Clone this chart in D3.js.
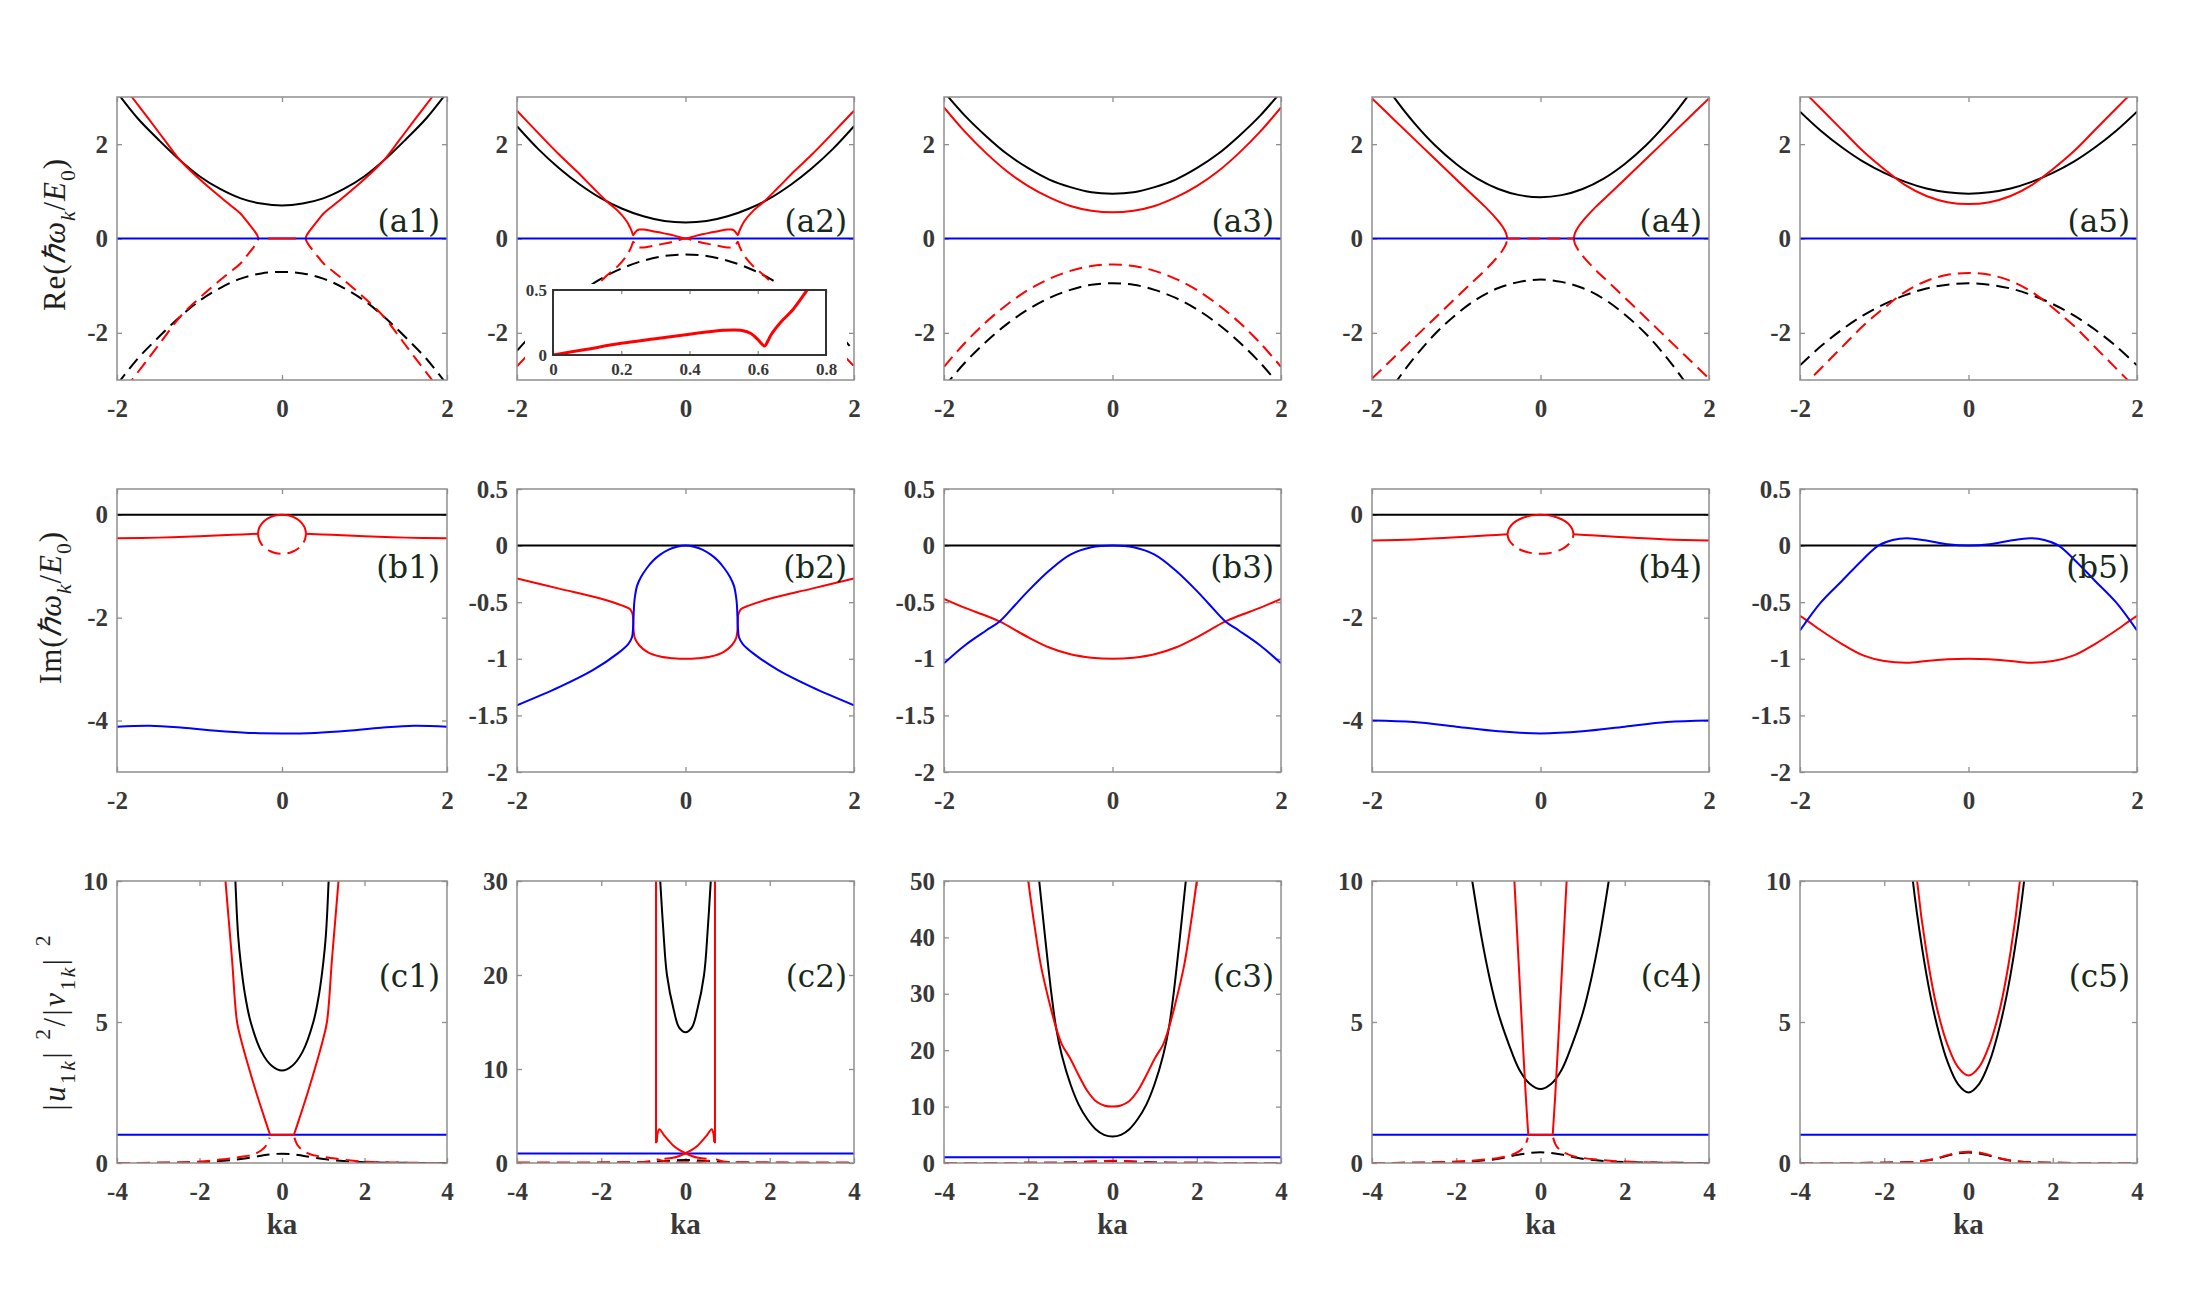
<!DOCTYPE html>
<html><head><meta charset="utf-8">
<script src="https://cdn.jsdelivr.net/npm/d3@7"></script>
<style>body{margin:0;background:#fff}svg{display:block}</style>
</head><body><svg id="c" width="2186" height="1307"></svg>
<script>
// ---------------- tick labels ----------------
const xTicksAB = [-2, 0, 2];
const xTicksC = [-4, -2, 0, 2, 4];
const yTicksRe = [-2, 0, 2];
const yTicksImWide = [-4, -2, 0];
const yTicksImNarrow = [-2, -1.5, -1, -0.5, 0, 0.5];
const yTicksC10 = [0, 5, 10];
const yTicksC30 = [0, 10, 20, 30];
const yTicksC50 = [0, 10, 20, 30, 40, 50];
const insetXTicks = [0, 0.2, 0.4, 0.6, 0.8];
const insetYTicks = [0, 0.5];
const panelLabels = ['(a1)','(a2)','(a3)','(a4)','(a5)','(b1)','(b2)','(b3)','(b4)','(b5)','(c1)','(c2)','(c3)','(c4)','(c5)'];

// ---------------- shared flat lines ----------------
const zeroK2 = [[-2,0],[2,0]];
const oneK4 = [[-4,1],[4,1]];

// ---------------- row a : Re ----------------
const a1BlackUp = [[-2,3.1],[-1.75,2.55],[-1.5,2.1],[-1.25,1.68],[-1,1.32],[-0.75,1.05],[-0.5,0.85],[-0.25,0.74],[0,0.7],[0.25,0.74],[0.5,0.85],[0.75,1.05],[1,1.32],[1.25,1.68],[1.5,2.1],[1.75,2.55],[2,3.1]];
const a1BlackDn = [[-2,-3.1],[-1.75,-2.55],[-1.5,-2.1],[-1.25,-1.68],[-1,-1.32],[-0.75,-1.05],[-0.5,-0.85],[-0.25,-0.74],[0,-0.71],[0.25,-0.74],[0.5,-0.85],[0.75,-1.05],[1,-1.32],[1.25,-1.68],[1.5,-2.1],[1.75,-2.55],[2,-3.1]];
const a1RedUpL = [[-1.9,3.18],[-1.82,3.0],[-1.6,2.5],[-1.42,2.08],[-1.24,1.67],[-1.05,1.34],[-0.83,1.0],[-0.65,0.74],[-0.51,0.54],[-0.41,0.33],[-0.33,0.15],[-0.295,0.05],[-0.287,0]];
const a1RedUpR = [[0.287,0],[0.295,0.05],[0.33,0.15],[0.41,0.33],[0.51,0.54],[0.65,0.74],[0.83,1.0],[1.05,1.34],[1.24,1.67],[1.42,2.08],[1.6,2.5],[1.82,3.0],[1.9,3.18]];
const a1RedDnL = [[-1.9,-3.18],[-1.82,-3.0],[-1.6,-2.5],[-1.42,-2.08],[-1.24,-1.67],[-1.05,-1.34],[-0.83,-1.0],[-0.65,-0.74],[-0.51,-0.54],[-0.41,-0.33],[-0.33,-0.15],[-0.295,-0.05],[-0.287,0]];
const a1RedDnR = [[0.287,0],[0.295,-0.05],[0.33,-0.15],[0.41,-0.33],[0.51,-0.54],[0.65,-0.74],[0.83,-1.0],[1.05,-1.34],[1.24,-1.67],[1.42,-2.08],[1.6,-2.5],[1.82,-3.0],[1.9,-3.18]];
const a1RedZero = [[-0.17,0],[0.17,0]];

const a2BlackUp = [[-2,2.38],[-1.75,1.9],[-1.5,1.49],[-1.25,1.14],[-1,0.85],[-0.75,0.63],[-0.5,0.47],[-0.25,0.37],[0,0.34],[0.25,0.37],[0.5,0.47],[0.75,0.63],[1,0.85],[1.25,1.14],[1.5,1.49],[1.75,1.9],[2,2.38]];
const a2BlackDn = [[-2,-2.38],[-1.75,-1.9],[-1.5,-1.49],[-1.25,-1.14],[-1,-0.85],[-0.75,-0.63],[-0.5,-0.47],[-0.25,-0.37],[0,-0.34],[0.25,-0.37],[0.5,-0.47],[0.75,-0.63],[1,-0.85],[1.25,-1.14],[1.5,-1.49],[1.75,-1.9],[2,-2.38]];
const a2RedUp = [[-2,2.71],[-1.75,2.24],[-1.5,1.78],[-1.3,1.44],[-1.1,1.08],[-0.93,0.78],[-0.8,0.58],[-0.7,0.37],[-0.66,0.24],[-0.64,0.16],[-0.63,0.11],[-0.62,0.07],[-0.6,0.12],[-0.58,0.165],[-0.55,0.19],[-0.5,0.19],[-0.4,0.16],[-0.3,0.125],[-0.2,0.09],[-0.1,0.045],[0,0],[0.1,0.045],[0.2,0.09],[0.3,0.125],[0.4,0.16],[0.5,0.19],[0.55,0.19],[0.58,0.165],[0.6,0.12],[0.62,0.07],[0.63,0.11],[0.64,0.16],[0.66,0.24],[0.7,0.37],[0.8,0.58],[0.93,0.78],[1.1,1.08],[1.3,1.44],[1.5,1.78],[1.75,2.24],[2,2.71]];
const a2RedDn = [[-2,-2.71],[-1.75,-2.24],[-1.5,-1.78],[-1.3,-1.44],[-1.1,-1.08],[-0.93,-0.78],[-0.8,-0.58],[-0.7,-0.37],[-0.66,-0.24],[-0.64,-0.16],[-0.63,-0.11],[-0.62,-0.07],[-0.6,-0.12],[-0.58,-0.165],[-0.55,-0.19],[-0.5,-0.19],[-0.4,-0.16],[-0.3,-0.125],[-0.2,-0.09],[-0.1,-0.045],[0,0],[0.1,-0.045],[0.2,-0.09],[0.3,-0.125],[0.4,-0.16],[0.5,-0.19],[0.55,-0.19],[0.58,-0.165],[0.6,-0.12],[0.62,-0.07],[0.63,-0.11],[0.64,-0.16],[0.66,-0.24],[0.7,-0.37],[0.8,-0.58],[0.93,-0.78],[1.1,-1.08],[1.3,-1.44],[1.5,-1.78],[1.75,-2.24],[2,-2.71]];
const a2Inset = [[0,0],[0.1,0.045],[0.2,0.09],[0.3,0.125],[0.4,0.16],[0.5,0.19],[0.55,0.19],[0.58,0.165],[0.6,0.12],[0.62,0.07],[0.63,0.11],[0.64,0.16],[0.67,0.26],[0.7,0.34],[0.745,0.5],[0.76,0.55]];

const a3BlackUp = [[-2,3.11],[-1.75,2.6],[-1.5,2.17],[-1.25,1.79],[-1,1.49],[-0.75,1.25],[-0.5,1.09],[-0.25,0.98],[0,0.95],[0.25,0.98],[0.5,1.09],[0.75,1.25],[1,1.49],[1.25,1.79],[1.5,2.17],[1.75,2.6],[2,3.11]];
const a3RedUp = [[-2,2.78],[-1.75,2.26],[-1.5,1.81],[-1.25,1.42],[-1,1.11],[-0.75,0.87],[-0.5,0.69],[-0.25,0.59],[0,0.555],[0.25,0.59],[0.5,0.69],[0.75,0.87],[1,1.11],[1.25,1.42],[1.5,1.81],[1.75,2.26],[2,2.78]];
const a3RedDn = [[-2,-2.72],[-1.75,-2.21],[-1.5,-1.77],[-1.25,-1.4],[-1,-1.09],[-0.75,-0.855],[-0.5,-0.686],[-0.25,-0.584],[0,-0.55],[0.25,-0.584],[0.5,-0.686],[0.75,-0.855],[1,-1.09],[1.25,-1.4],[1.5,-1.77],[1.75,-2.21],[2,-2.72]];
const a3BlackDn = [[-2,-3.15],[-1.75,-2.63],[-1.5,-2.19],[-1.25,-1.81],[-1,-1.5],[-0.75,-1.26],[-0.5,-1.09],[-0.25,-0.98],[0,-0.95],[0.25,-0.98],[0.5,-1.09],[0.75,-1.26],[1,-1.5],[1.25,-1.81],[1.5,-2.19],[1.75,-2.63],[2,-3.15]];

const a4BlackUp = [[-2,3.68],[-1.75,3.02],[-1.5,2.45],[-1.25,1.97],[-1,1.58],[-0.75,1.27],[-0.5,1.05],[-0.25,0.92],[0,0.875],[0.25,0.92],[0.5,1.05],[0.75,1.27],[1,1.58],[1.25,1.97],[1.5,2.45],[1.75,3.02],[2,3.68]];
const a4BlackDn = [[-2,-3.82],[-1.75,-3.13],[-1.5,-2.53],[-1.25,-2.02],[-1,-1.61],[-0.75,-1.28],[-0.5,-1.05],[-0.25,-0.92],[0,-0.87],[0.25,-0.92],[0.5,-1.05],[0.75,-1.28],[1,-1.61],[1.25,-2.02],[1.5,-2.53],[1.75,-3.13],[2,-3.82]];
const a4RedUpL = [[-2,2.97],[-1.75,2.54],[-1.43,1.99],[-1.15,1.51],[-0.84,0.98],[-0.65,0.66],[-0.52,0.41],[-0.45,0.25],[-0.41,0.12],[-0.4,0.05],[-0.395,0]];
const a4RedUpR = [[0.395,0],[0.4,0.05],[0.41,0.12],[0.45,0.25],[0.52,0.41],[0.65,0.66],[0.84,0.98],[1.15,1.51],[1.43,1.99],[1.75,2.54],[2,2.97]];
const a4RedDnL = [[-2,-2.97],[-1.75,-2.54],[-1.43,-1.99],[-1.15,-1.51],[-0.84,-0.98],[-0.65,-0.66],[-0.52,-0.41],[-0.45,-0.25],[-0.41,-0.12],[-0.4,-0.05],[-0.395,0]];
const a4RedDnR = [[0.395,0],[0.4,-0.05],[0.41,-0.12],[0.45,-0.25],[0.52,-0.41],[0.65,-0.66],[0.84,-0.98],[1.15,-1.51],[1.43,-1.99],[1.75,-2.54],[2,-2.97]];
const a4RedZero = [[-0.395,0],[0.395,0]];

const a5BlackUp = [[-2,2.69],[-1.75,2.28],[-1.5,1.93],[-1.25,1.63],[-1,1.39],[-0.75,1.2],[-0.5,1.06],[-0.25,0.98],[0,0.95],[0.25,0.98],[0.5,1.06],[0.75,1.2],[1,1.39],[1.25,1.63],[1.5,1.93],[1.75,2.28],[2,2.69]];
const a5RedUp = [[-2,3.2],[-1.75,2.75],[-1.5,2.3],[-1.25,1.85],[-1,1.47],[-0.75,1.13],[-0.5,0.9],[-0.25,0.77],[0,0.73],[0.25,0.77],[0.5,0.9],[0.75,1.13],[1,1.47],[1.25,1.85],[1.5,2.3],[1.75,2.75],[2,3.2]];
const a5RedDn = [[-2,-3.2],[-1.75,-2.75],[-1.5,-2.3],[-1.25,-1.85],[-1,-1.47],[-0.75,-1.13],[-0.5,-0.9],[-0.25,-0.77],[0,-0.73],[0.25,-0.77],[0.5,-0.9],[0.75,-1.13],[1,-1.47],[1.25,-1.85],[1.5,-2.3],[1.75,-2.75],[2,-3.2]];
const a5BlackDn = [[-2,-2.69],[-1.75,-2.28],[-1.5,-1.93],[-1.25,-1.63],[-1,-1.39],[-0.75,-1.2],[-0.5,-1.06],[-0.25,-0.98],[0,-0.95],[0.25,-0.98],[0.5,-1.06],[0.75,-1.2],[1,-1.39],[1.25,-1.63],[1.5,-1.93],[1.75,-2.28],[2,-2.69]];

// ---------------- row b : Im ----------------
const b1RedL = [[-2,-0.455],[-1.5,-0.445],[-1,-0.42],[-0.6,-0.39],[-0.29,-0.37]];
const b1RedR = [[0.29,-0.37],[0.6,-0.39],[1,-0.42],[1.5,-0.445],[2,-0.455]];
const b1ArcUp = [[-0.29,-0.37],[-0.285,-0.3],[-0.27,-0.235],[-0.24,-0.162],[-0.2,-0.102],[-0.14,-0.046],[-0.07,-0.011],[0,0],[0.07,-0.011],[0.14,-0.046],[0.2,-0.102],[0.24,-0.162],[0.27,-0.235],[0.285,-0.3],[0.29,-0.37]];
const b1ArcDn = [[-0.29,-0.37],[-0.285,-0.44],[-0.27,-0.51],[-0.24,-0.59],[-0.2,-0.65],[-0.14,-0.71],[-0.07,-0.75],[0,-0.76],[0.07,-0.75],[0.14,-0.71],[0.2,-0.65],[0.24,-0.59],[0.27,-0.51],[0.285,-0.44],[0.29,-0.37]];
const b1Blue = [[-2,-4.12],[-1.6,-4.1],[-1.2,-4.14],[-0.8,-4.2],[-0.4,-4.24],[0,-4.25],[0.4,-4.24],[0.8,-4.2],[1.2,-4.14],[1.6,-4.1],[2,-4.12]];

const b2Blue = [[-2,-1.41],[-1.5,-1.25],[-1.1,-1.1],[-0.8,-0.95],[-0.68,-0.87],[-0.635,-0.81],[-0.622,-0.72],[-0.616,-0.62],[-0.61,-0.52],[-0.6,-0.45],[-0.577,-0.36],[-0.53,-0.28],[-0.46,-0.2],[-0.38,-0.13],[-0.3,-0.08],[-0.2,-0.035],[-0.1,-0.01],[0,0],[0.1,-0.01],[0.2,-0.035],[0.3,-0.08],[0.38,-0.13],[0.46,-0.2],[0.53,-0.28],[0.577,-0.36],[0.6,-0.45],[0.61,-0.52],[0.616,-0.62],[0.622,-0.72],[0.635,-0.81],[0.68,-0.87],[0.8,-0.95],[1.1,-1.1],[1.5,-1.25],[2,-1.41]];
const b2Red = [[-2,-0.29],[-1.5,-0.38],[-1,-0.47],[-0.75,-0.53],[-0.66,-0.56],[-0.63,-0.6],[-0.62,-0.68],[-0.615,-0.76],[-0.6,-0.82],[-0.55,-0.88],[-0.45,-0.94],[-0.3,-0.98],[-0.15,-0.995],[0,-1],[0.15,-0.995],[0.3,-0.98],[0.45,-0.94],[0.55,-0.88],[0.6,-0.82],[0.615,-0.76],[0.62,-0.68],[0.63,-0.6],[0.66,-0.56],[0.75,-0.53],[1,-0.47],[1.5,-0.38],[2,-0.29]];

const b3Blue = [[-2,-1.04],[-1.75,-0.88],[-1.5,-0.75],[-1.34,-0.67],[-1.15,-0.52],[-1,-0.4],[-0.75,-0.22],[-0.5,-0.08],[-0.25,-0.015],[0,0],[0.25,-0.015],[0.5,-0.08],[0.75,-0.22],[1,-0.4],[1.15,-0.52],[1.34,-0.67],[1.5,-0.75],[1.75,-0.88],[2,-1.04]];
const b3Red = [[-2,-0.47],[-1.75,-0.55],[-1.5,-0.62],[-1.34,-0.67],[-1,-0.81],[-0.75,-0.9],[-0.5,-0.96],[-0.25,-0.99],[0,-1],[0.25,-0.99],[0.5,-0.96],[0.75,-0.9],[1,-0.81],[1.34,-0.67],[1.5,-0.62],[1.75,-0.55],[2,-0.47]];

const b4RedL = [[-2,-0.5],[-1.5,-0.48],[-1,-0.44],[-0.6,-0.4],[-0.39,-0.38]];
const b4RedR = [[0.39,-0.38],[0.6,-0.4],[1,-0.44],[1.5,-0.48],[2,-0.5]];
const b4ArcUp = [[-0.39,-0.38],[-0.385,-0.32],[-0.37,-0.26],[-0.33,-0.177],[-0.28,-0.115],[-0.2,-0.054],[-0.1,-0.0125],[0,0],[0.1,-0.0125],[0.2,-0.054],[0.28,-0.115],[0.33,-0.177],[0.37,-0.26],[0.385,-0.32],[0.39,-0.38]];
const b4ArcDn = [[-0.39,-0.38],[-0.385,-0.44],[-0.37,-0.5],[-0.33,-0.58],[-0.28,-0.645],[-0.2,-0.706],[-0.1,-0.747],[0,-0.76],[0.1,-0.747],[0.2,-0.706],[0.28,-0.645],[0.33,-0.58],[0.37,-0.5],[0.385,-0.44],[0.39,-0.38]];
const b4Blue = [[-2,-4.0],[-1.5,-4.03],[-1,-4.12],[-0.5,-4.21],[0,-4.25],[0.5,-4.21],[1,-4.12],[1.5,-4.03],[2,-4.0]];

const b5Blue = [[-2,-0.75],[-1.75,-0.5],[-1.5,-0.31],[-1.25,-0.12],[-1.07,0],[-0.9,0.05],[-0.73,0.065],[-0.5,0.045],[-0.25,0.012],[0,0],[0.25,0.012],[0.5,0.045],[0.73,0.065],[0.9,0.05],[1.07,0],[1.25,-0.12],[1.5,-0.31],[1.75,-0.5],[2,-0.75]];
const b5Red = [[-2,-0.62],[-1.92,-0.66],[-1.75,-0.75],[-1.5,-0.87],[-1.25,-0.97],[-1,-1.02],[-0.73,-1.035],[-0.5,-1.02],[-0.25,-1.005],[0,-1],[0.25,-1.005],[0.5,-1.02],[0.73,-1.035],[1,-1.02],[1.25,-0.97],[1.5,-0.87],[1.75,-0.75],[1.92,-0.66],[2,-0.62]];

// ---------------- row c : |u|^2/|v|^2 ----------------
const c1BlackUp = [[-1.16,11],[-1.13,10],[-1.1,9],[-1.06,8],[-1,7.1],[-0.9,6],[-0.76,5],[-0.5,3.95],[-0.25,3.45],[0,3.28],[0.25,3.45],[0.5,3.95],[0.76,5],[0.9,6],[1,7.1],[1.06,8],[1.1,9],[1.13,10],[1.16,11]];
const c1RedL = [[-1.42,11],[-1.37,10],[-1.29,8.6],[-1.21,7.2],[-1.09,5],[-0.98,4.3],[-0.86,3.66],[-0.62,2.48],[-0.41,1.53],[-0.29,1]];
const c1RedR = [[0.29,1],[0.41,1.53],[0.62,2.48],[0.86,3.66],[0.98,4.3],[1.09,5],[1.21,7.2],[1.29,8.6],[1.37,10],[1.42,11]];
const c1RedFlat = [[-0.29,1],[0.29,1]];
const c1RedDashL = [[-4,0],[-3,0.01],[-2,0.05],[-1.5,0.12],[-1.18,0.18],[-0.9,0.24],[-0.7,0.3],[-0.5,0.45],[-0.37,0.65],[-0.3,0.9]];
const c1RedDashR = [[0.3,0.9],[0.37,0.65],[0.5,0.45],[0.7,0.3],[0.9,0.24],[1.18,0.18],[1.5,0.12],[2,0.05],[3,0.01],[4,0]];
const c1BlackDash = [[-4,0],[-3,0.005],[-2,0.03],[-1.5,0.07],[-1,0.14],[-0.5,0.26],[-0.25,0.31],[0,0.33],[0.25,0.31],[0.5,0.26],[1,0.14],[1.5,0.07],[2,0.03],[3,0.005],[4,0]];

const c2BlackUp = [[-0.63,32],[-0.6,30],[-0.53,25],[-0.44,20],[-0.28,16.3],[-0.15,14.4],[0,13.9],[0.15,14.4],[0.28,16.3],[0.44,20],[0.53,25],[0.6,30],[0.63,32]];
const c2RedVL = [[-0.7,32],[-0.7,2.1]];
const c2RedVR = [[0.7,32],[0.7,2.1]];
const c2RedA = [[-0.68,2.2],[-0.66,3.2],[-0.62,3.6],[-0.5,2.9],[-0.3,1.9],[-0.15,1.4],[0,1.05],[0.15,0.75],[0.3,0.55],[0.5,0.45]];
const c2RedB = [[-0.5,0.45],[-0.3,0.55],[-0.15,0.75],[0,1.05],[0.15,1.4],[0.3,1.9],[0.5,2.9],[0.62,3.6],[0.66,3.2],[0.68,2.2]];
const c2RedDash = [[-4,0.05],[-1.5,0.08],[-0.9,0.15],[-0.7,0.4],[-0.6,0.3],[-0.4,0.12],[0,0.08],[0.4,0.12],[0.6,0.3],[0.7,0.4],[0.9,0.15],[1.5,0.08],[4,0.05]];
const c2BlackDash = [[-4,0],[-2,0.02],[-1,0.08],[-0.5,0.2],[0,0.33],[0.5,0.2],[1,0.08],[2,0.02],[4,0]];

const c3BlackUp = [[-1.8,54],[-1.74,50],[-1.6,40],[-1.45,30],[-1.34,24],[-1.2,19],[-1,14],[-0.8,10.3],[-0.6,7.8],[-0.4,6],[-0.2,5],[0,4.7],[0.2,5],[0.4,6],[0.6,7.8],[0.8,10.3],[1,14],[1.2,19],[1.34,24],[1.45,30],[1.6,40],[1.74,50],[1.8,54]];
const c3RedUp = [[-2.05,53],[-2,50],[-1.85,42],[-1.7,35],[-1.5,28.5],[-1.34,24],[-1.2,21],[-1,18.5],[-0.8,15.5],[-0.6,12.8],[-0.4,11],[-0.2,10.2],[0,10],[0.2,10.2],[0.4,11],[0.6,12.8],[0.8,15.5],[1,18.5],[1.2,21],[1.34,24],[1.5,28.5],[1.7,35],[1.85,42],[2,50],[2.05,53]];
const c3RedDash = [[-4,0],[-2,0.03],[-1,0.1],[0,0.4],[1,0.1],[2,0.03],[4,0]];
const c3BlackDash = [[-4,0],[-2,0.03],[-1,0.1],[0,0.35],[1,0.1],[2,0.03],[4,0]];

const c4BlackUp = [[-1.72,11],[-1.62,10],[-1.4,8],[-1.2,6.5],[-1,5.3],[-0.75,4.2],[-0.5,3.3],[-0.25,2.8],[0,2.62],[0.25,2.8],[0.5,3.3],[0.75,4.2],[1,5.3],[1.2,6.5],[1.4,8],[1.62,10],[1.72,11]];
const c4RedL = [[-0.66,11],[-0.62,10],[-0.55,8],[-0.48,6],[-0.41,4],[-0.35,2.4],[-0.29,1]];
const c4RedR = [[0.29,1],[0.35,2.4],[0.41,4],[0.48,6],[0.55,8],[0.62,10],[0.66,11]];
const c4RedFlat = [[-0.29,1],[0.29,1]];
const c4RedDashL = [[-4,0],[-3,0.01],[-2,0.05],[-1.5,0.1],[-1,0.18],[-0.7,0.28],[-0.5,0.42],[-0.37,0.62],[-0.3,0.9]];
const c4RedDashR = [[0.3,0.9],[0.37,0.62],[0.5,0.42],[0.7,0.28],[1,0.18],[1.5,0.1],[2,0.05],[3,0.01],[4,0]];
const c4BlackDash = [[-4,0],[-2,0.03],[-1.5,0.07],[-1,0.15],[-0.5,0.3],[0,0.38],[0.5,0.3],[1,0.15],[1.5,0.07],[2,0.03],[4,0]];

const c5RedUp = [[-1.27,11],[-1.22,10],[-1,7.5],[-0.75,5.5],[-0.5,4.2],[-0.25,3.4],[0,3.1],[0.25,3.4],[0.5,4.2],[0.75,5.5],[1,7.5],[1.22,10],[1.27,11]];
const c5BlackUp = [[-1.38,11],[-1.32,10],[-1.1,7.6],[-0.9,5.9],[-0.7,4.6],[-0.5,3.6],[-0.25,2.8],[0,2.5],[0.25,2.8],[0.5,3.6],[0.7,4.6],[0.9,5.9],[1.1,7.6],[1.32,10],[1.38,11]];
const c5RedDash = [[-4,0],[-2,0.01],[-1.2,0.05],[-0.8,0.15],[-0.5,0.28],[-0.25,0.37],[0,0.4],[0.25,0.37],[0.5,0.28],[0.8,0.15],[1.2,0.05],[2,0.01],[4,0]];
const c5BlackDash = [[-4,0],[-2,0.01],[-1.2,0.05],[-0.8,0.14],[-0.5,0.26],[-0.25,0.34],[0,0.37],[0.25,0.34],[0.5,0.26],[0.8,0.14],[1.2,0.05],[2,0.01],[4,0]];

// ---------------- layout ----------------
const W = 2186, H = 1307;
const colX = [[117,447],[517,854],[944,1281],[1372,1709],[1800,2137]];
const rowY = [[97,380],[489,772],[881,1163]];
const labelBase = [232, 578, 987];
const RED = '#ff0000', BLK = '#000000', BLU = '#0000ff';
const GRID = '#8f8f8f', TXT = '#383838';
const SERIF = "'Liberation Serif','Times New Roman',serif";
const LABSERIF = "'DejaVu Serif','Liberation Serif',serif";
const S = (d, c, dash) => ({d, c, dash: !!dash});

const panels = [
  {r:0,c:0,xd:[-2,2],yd:[-3,3],xt:xTicksAB,yt:yTicksRe,s:[S(a1BlackUp,BLK),S(a1BlackDn,BLK,1),S(a1RedUpL,RED),S(a1RedUpR,RED),S(a1RedDnL,RED,1),S(a1RedDnR,RED,1),S(zeroK2,BLU),S(a1RedZero,RED)]},
  {r:0,c:1,xd:[-2,2],yd:[-3,3],xt:xTicksAB,yt:yTicksRe,s:[S(a2BlackUp,BLK),S(a2BlackDn,BLK,1),S(zeroK2,BLU),S(a2RedUp,RED),S(a2RedDn,RED,1)],inset:true},
  {r:0,c:2,xd:[-2,2],yd:[-3,3],xt:xTicksAB,yt:yTicksRe,s:[S(a3BlackUp,BLK),S(a3BlackDn,BLK,1),S(a3RedUp,RED),S(a3RedDn,RED,1),S(zeroK2,BLU)]},
  {r:0,c:3,xd:[-2,2],yd:[-3,3],xt:xTicksAB,yt:yTicksRe,s:[S(a4BlackUp,BLK),S(a4BlackDn,BLK,1),S(a4RedUpL,RED),S(a4RedUpR,RED),S(a4RedDnL,RED,1),S(a4RedDnR,RED,1),S(zeroK2,BLU),S(a4RedZero,RED,1)]},
  {r:0,c:4,xd:[-2,2],yd:[-3,3],xt:xTicksAB,yt:yTicksRe,s:[S(a5BlackUp,BLK),S(a5BlackDn,BLK,1),S(a5RedUp,RED),S(a5RedDn,RED,1),S(zeroK2,BLU)]},
  {r:1,c:0,xd:[-2,2],yd:[-5,0.5],xt:xTicksAB,yt:yTicksImWide,s:[S(zeroK2,BLK),S(b1RedL,RED),S(b1RedR,RED),S(b1ArcUp,RED),S(b1ArcDn,RED,1),S(b1Blue,BLU)]},
  {r:1,c:1,xd:[-2,2],yd:[-2,0.5],xt:xTicksAB,yt:yTicksImNarrow,s:[S(zeroK2,BLK),S(b2Red,RED),S(b2Blue,BLU)]},
  {r:1,c:2,xd:[-2,2],yd:[-2,0.5],xt:xTicksAB,yt:yTicksImNarrow,s:[S(zeroK2,BLK),S(b3Red,RED),S(b3Blue,BLU)]},
  {r:1,c:3,xd:[-2,2],yd:[-5,0.5],xt:xTicksAB,yt:yTicksImWide,s:[S(zeroK2,BLK),S(b4RedL,RED),S(b4RedR,RED),S(b4ArcUp,RED),S(b4ArcDn,RED,1),S(b4Blue,BLU)]},
  {r:1,c:4,xd:[-2,2],yd:[-2,0.5],xt:xTicksAB,yt:yTicksImNarrow,s:[S(zeroK2,BLK),S(b5Red,RED),S(b5Blue,BLU)]},
  {r:2,c:0,xd:[-4,4],yd:[0,10],xt:xTicksC,yt:yTicksC10,s:[S(c1BlackDash,BLK,1),S(c1RedDashL,RED,1),S(c1RedDashR,RED,1),S(oneK4,BLU),S(c1BlackUp,BLK),S(c1RedL,RED),S(c1RedR,RED),S(c1RedFlat,RED)]},
  {r:2,c:1,xd:[-4,4],yd:[0,30],xt:xTicksC,yt:yTicksC30,s:[S(c2BlackDash,BLK,1),S(c2RedDash,RED,1),S(oneK4,BLU),S(c2BlackUp,BLK),S(c2RedVL,RED),S(c2RedVR,RED),S(c2RedA,RED),S(c2RedB,RED)]},
  {r:2,c:2,xd:[-4,4],yd:[0,50],xt:xTicksC,yt:yTicksC50,s:[S(c3BlackDash,BLK,1),S(c3RedDash,RED,1),S(oneK4,BLU),S(c3BlackUp,BLK),S(c3RedUp,RED)]},
  {r:2,c:3,xd:[-4,4],yd:[0,10],xt:xTicksC,yt:yTicksC10,s:[S(c4BlackDash,BLK,1),S(c4RedDashL,RED,1),S(c4RedDashR,RED,1),S(oneK4,BLU),S(c4BlackUp,BLK),S(c4RedL,RED),S(c4RedR,RED),S(c4RedFlat,RED)]},
  {r:2,c:4,xd:[-4,4],yd:[0,10],xt:xTicksC,yt:yTicksC10,s:[S(c5BlackDash,BLK,1),S(c5RedDash,RED,1),S(oneK4,BLU),S(c5BlackUp,BLK),S(c5RedUp,RED)]}
];

const svg = d3.select('#c');
svg.append('rect').attr('width',W).attr('height',H).attr('fill','#fff');
const defs = svg.append('defs');

function styleAxis(g, size) {
  g.attr('font-family', null).attr('font-size', null);
  g.select('.domain').remove();
  g.selectAll('.tick line').attr('stroke', GRID).attr('stroke-width', 1.3);
  g.selectAll('.tick text').attr('fill', TXT)
    .style('font-family', SERIF).style('font-weight', 'bold').style('font-size', size + 'px');
}

function drawPanel(p, i) {
  const [x0, x1] = colX[p.c], [y0, y1] = rowY[p.r];
  const x = d3.scaleLinear().domain(p.xd).range([x0, x1]);
  const y = d3.scaleLinear().domain(p.yd).range([y1, y0]);
  const id = 'clip' + i;
  defs.append('clipPath').attr('id', id).append('rect')
    .attr('x', x0).attr('y', y0).attr('width', x1 - x0).attr('height', y1 - y0);

  const fmt = d => String(d);
  styleAxis(svg.append('g').attr('transform', `translate(0,${y1})`)
    .call(d3.axisBottom(x).tickValues(p.xt).tickSizeInner(-5).tickSizeOuter(0).tickPadding(19).tickFormat(fmt)), 25);
  styleAxis(svg.append('g').attr('transform', `translate(0,${y0})`)
    .call(d3.axisTop(x).tickValues(p.xt).tickSizeInner(-5).tickSizeOuter(0).tickFormat('')), 25);
  styleAxis(svg.append('g').attr('transform', `translate(${x0},0)`)
    .call(d3.axisLeft(y).tickValues(p.yt).tickSizeInner(-5).tickSizeOuter(0).tickPadding(9).tickFormat(fmt)), 25);
  styleAxis(svg.append('g').attr('transform', `translate(${x1},0)`)
    .call(d3.axisRight(y).tickValues(p.yt).tickSizeInner(-5).tickSizeOuter(0).tickFormat('')), 25);

  const g = svg.append('g').attr('clip-path', `url(#${id})`);
  const line = d3.line().x(d => x(d[0])).y(d => y(d[1])).curve(d3.curveCatmullRom.alpha(0.5));
  p.s.forEach(s => {
    g.append('path').attr('d', line(s.d)).attr('fill', 'none')
      .attr('stroke', s.c).attr('stroke-width', 2)
      .attr('stroke-dasharray', s.dash ? '13,7' : null);
  });

  if (p.inset) {
    // white area behind the inset hides the lower curves
    g.append('rect').attr('x', 525).attr('y', 284).attr('width', 322).attr('height', 96).attr('fill', '#fff');
  }

  svg.append('rect').attr('x', x0).attr('y', y0).attr('width', x1 - x0).attr('height', y1 - y0)
    .attr('fill', 'none').attr('stroke', GRID).attr('stroke-width', 1.5);

  if (p.inset) drawInset();

  svg.append('text').attr('x', x1 - 7).attr('y', labelBase[p.r]).attr('text-anchor', 'end')
    .style('font-family', LABSERIF).style('font-size', '31px').attr('fill', '#17291a').text(panelLabels[i]);

  if (p.r === 2) {
    svg.append('text').attr('x', (x0 + x1) / 2).attr('y', 1234).attr('text-anchor', 'middle')
      .style('font-family', SERIF).style('font-weight', 'bold').style('font-size', '29px')
      .attr('fill', TXT).text('ka');
  }
}

function drawInset() {
  const ix = d3.scaleLinear().domain([0, 0.8]).range([553, 826]);
  const iy = d3.scaleLinear().domain([0, 0.5]).range([355, 290]);
  defs.append('clipPath').attr('id', 'clipInset').append('rect')
    .attr('x', 553).attr('y', 290).attr('width', 273).attr('height', 65);
  const fmt = d => String(d);
  styleAxis(svg.append('g').attr('transform', 'translate(0,355)')
    .call(d3.axisBottom(ix).tickValues(insetXTicks).tickSizeInner(-4).tickSizeOuter(0).tickPadding(8).tickFormat(fmt)), 17);
  styleAxis(svg.append('g').attr('transform', 'translate(0,290)')
    .call(d3.axisTop(ix).tickValues(insetXTicks).tickSizeInner(-4).tickSizeOuter(0).tickFormat('')), 17);
  styleAxis(svg.append('g').attr('transform', 'translate(553,0)')
    .call(d3.axisLeft(iy).tickValues(insetYTicks).tickSizeInner(0).tickSizeOuter(0).tickPadding(6).tickFormat(fmt)), 17);
  const line = d3.line().x(d => ix(d[0])).y(d => iy(d[1])).curve(d3.curveCatmullRom.alpha(0.5));
  svg.append('g').attr('clip-path', 'url(#clipInset)').append('path').attr('d', line(a2Inset))
    .attr('fill', 'none').attr('stroke', RED).attr('stroke-width', 3);
  svg.append('rect').attr('x', 553).attr('y', 290).attr('width', 273).attr('height', 65)
    .attr('fill', 'none').attr('stroke', '#333').attr('stroke-width', 2);
}

panels.forEach(drawPanel);

// ---------------- y-axis titles ----------------
function richLabel(cx, cy, parts, size, len) {
  const t = svg.append('text')
    .attr('transform', `translate(${cx + size * 0.33},${cy}) rotate(-90)`)
    .attr('text-anchor', 'middle').style('font-family', SERIF).style('font-size', size + 'px')
    .attr('fill', '#1e1e1e').attr('textLength', len).attr('lengthAdjust', 'spacing');
  let off = 0;
  parts.forEach(p => {
    const target = p.s === 'sub' ? 0.3 * size : p.s === 'sup' ? -0.5 * size : 0;
    const ts = t.append('tspan').text(p.t).attr('dy', target - off);
    off = target;
    if (p.i) ts.style('font-style', 'italic');
    if (p.s) ts.style('font-size', (0.7 * size) + 'px');
  });
}
const reParts = [{t:'Re('},{t:'\u210F\u03C9',i:1},{t:'k',i:1,s:'sub'},{t:'/'},{t:'E',i:1},{t:'0',s:'sub'},{t:')'}];
const imParts = [{t:'Im('},{t:'\u210F\u03C9',i:1},{t:'k',i:1,s:'sub'},{t:'/'},{t:'E',i:1},{t:'0',s:'sub'},{t:')'}];
const uvParts = [{t:'|'},{t:'u',i:1},{t:'1',s:'sub'},{t:'k',i:1,s:'sub'},{t:'| '},{t:'2',s:'sup'},{t:'/|'},{t:'v',i:1},{t:'1',s:'sub'},{t:'k',i:1,s:'sub'},{t:'| '},{t:'2',s:'sup'}];
richLabel(55, 235, reParts, 31, 152);
richLabel(51, 608, imParts, 31, 152);
richLabel(55, 1023, uvParts, 31, 175);
</script></body></html>
